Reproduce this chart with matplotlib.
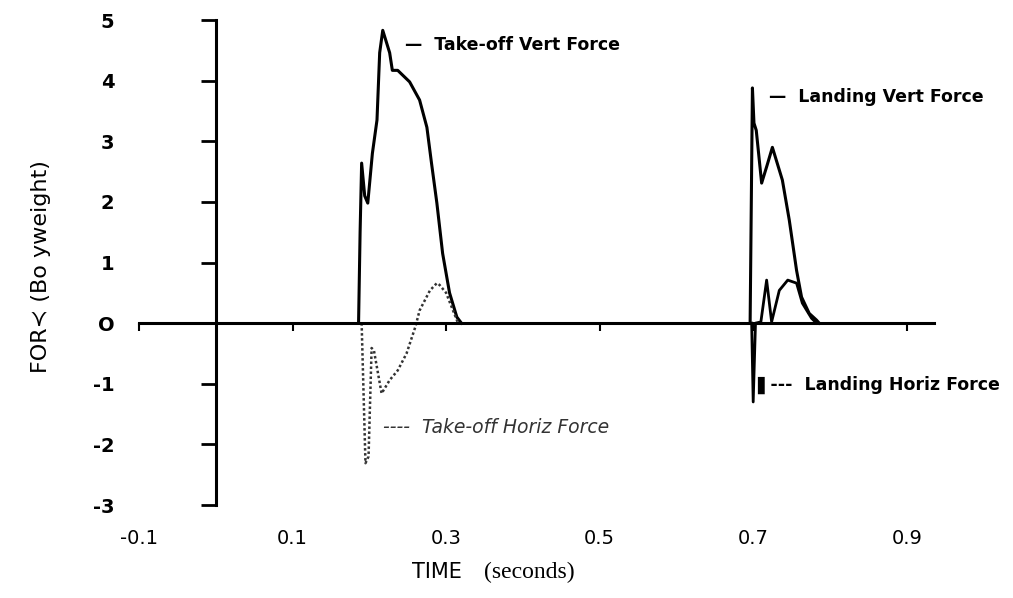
import matplotlib
matplotlib.use('Agg')
import matplotlib.pyplot as plt

plt.rcParams['font.family'] = ['DejaVu Sans', 'Noto Sans']

# take-off, vertical force (bodyweights)
to_vert_t = [0.186, 0.188, 0.190, 0.194, 0.198, 0.204, 0.210, 0.2135, 0.2175, 0.2265,
             0.230, 0.237, 0.2525, 0.2655, 0.275, 0.281, 0.288, 0.2955, 0.3045, 0.314, 0.320]
to_vert_f = [0, 1.5, 2.64, 2.1, 1.98, 2.8, 3.35, 4.46, 4.83, 4.46,
             4.17, 4.17, 3.98, 3.68, 3.23, 2.64, 1.98, 1.15, 0.5, 0.1, 0]

# take-off, horizontal force
to_horiz_t = [0.190, 0.195, 0.199, 0.203, 0.206, 0.216, 0.2265, 0.237, 0.2485, 0.260,
              0.2655, 0.279, 0.288, 0.2915, 0.300, 0.309, 0.315]
to_horiz_f = [0, -2.31, -2.2, -0.41, -0.45, -1.16, -0.94, -0.78, -0.5, -0.06,
              0.21, 0.54, 0.66, 0.63, 0.5, 0.21, 0.02]

# landing, vertical force
ld_vert_t = [0.696, 0.699, 0.701, 0.704, 0.711, 0.718, 0.725, 0.738, 0.747,
             0.7565, 0.763, 0.773, 0.7825, 0.786]
ld_vert_f = [0, 3.88, 3.3, 3.18, 2.31, 2.6, 2.9, 2.36, 1.7,
             0.87, 0.43, 0.16, 0.05, 0]

# landing, horizontal force
ld_horiz_t = [0.698, 0.700, 0.703, 0.710, 0.7175, 0.724, 0.734, 0.745, 0.7565,
              0.764, 0.776, 0.7825]
ld_horiz_f = [0, -1.3, 0, 0.02, 0.71, 0.02, 0.54, 0.71, 0.66,
              0.33, 0.08, 0]

x_ticks = [-0.1, 0.1, 0.3, 0.5, 0.7, 0.9]
x_labels = ['-0.1', '0.1', '0.3', '0.5', '0.7', '0.9']
y_ticks = [5, 4, 3, 2, 1, 0, -1, -2, -3]
y_labels = ['5', '4', '3', '2', '1', 'O', '-1', '-2', '-3']

fig = plt.figure(figsize=(10.13, 5.98), dpi=100)
ax = fig.add_axes([0.1372, 0.1555, 0.7958, 0.811])

ax.plot(to_vert_t, to_vert_f, color='black', lw=2.2)
ax.plot(to_horiz_t, to_horiz_f, color='#333333', lw=1.8, ls=(0, (1, 1)))
ax.plot(ld_vert_t, ld_vert_f, color='black', lw=2.2)
ax.plot(ld_horiz_t, ld_horiz_f, color='black', lw=2.0)

ax.set_xlim(-0.1, 0.95)
ax.set_ylim(-3, 5)

for s in ['top', 'right']:
    ax.spines[s].set_visible(False)
ax.spines['left'].set_position(('data', 0))
ax.spines['bottom'].set_position(('data', 0))
ax.spines['bottom'].set_bounds(-0.1, 0.935)
ax.spines['left'].set_linewidth(2.2)
ax.spines['bottom'].set_linewidth(2.2)

ax.set_yticks(y_ticks)
ax.set_yticklabels(y_labels, fontsize=14, fontweight='bold')
ax.tick_params(axis='y', direction='out', length=11, width=2, pad=62)

ax.set_xticks(x_ticks)
ax.set_xticklabels(x_labels, fontsize=14)
ax.tick_params(axis='x', direction='out', length=6, width=1.5, pad=142)

# axis titles
fig.text(0.407, 0.033, 'TIME', fontsize=15, ha='left', va='baseline')
fig.text(0.478, 0.033, '(seconds)', fontsize=17, family='Liberation Serif',
         ha='left', va='baseline')
fig.text(0.04, 0.555, 'FOR≺ (Bo yweight)', rotation=90, fontsize=16,
         ha='center', va='center')

# curve labels
ax.text(0.246, 4.59, '—  Take-off Vert Force', fontsize=12.5, fontweight='bold', va='center')
ax.text(0.721, 3.73, '—  Landing Vert Force', fontsize=12.5, fontweight='bold', va='center')
ax.text(0.2175, -1.72, '----  Take-off Horiz Force', fontsize=13.5, style='italic',
        color='#333333', va='center')
ax.text(0.705, -1.02, '▌---  Landing Horiz Force', fontsize=12.5, fontweight='bold', va='center')

fig.savefig('out.png', dpi=100)
